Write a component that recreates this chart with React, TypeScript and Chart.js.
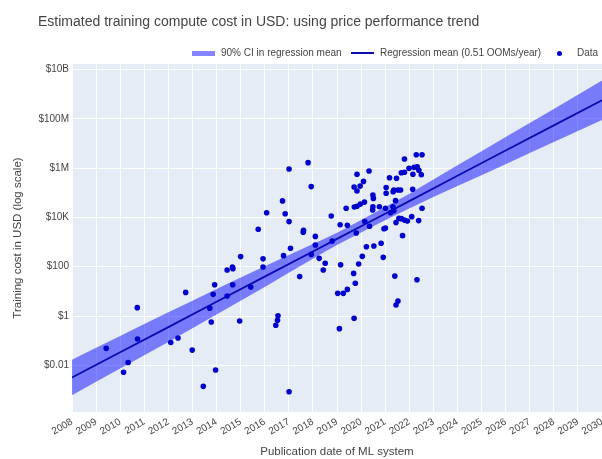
import React, { useEffect, useRef } from "react";
import { Chart, registerables } from "chart.js";

Chart.register(...registerables);

const FONT = '"Liberation Sans", Arial, Helvetica, sans-serif';
const TEXT = "#444";

const chartTitle = "Estimated training compute cost in USD: using price performance trend";
const xAxisTitle = "Publication date of ML system";
const yAxisTitle = "Training cost in USD (log scale)";
const legendLabels = ["90% CI in regression mean", "Regression mean (0.51 OOMs/year)", "Data"];

const yTickValues = [0.01, 1, 100, 1e4, 1e6, 1e8, 1e10];
const yTickLabels = ["$0.01", "$1", "$100", "$10K", "$1M", "$100M", "$10B"];

// regression mean and 90% CI (log10 of USD)
const bandYears = [2008, 2010, 2012, 2014, 2016, 2018, 2019, 2020, 2021, 2022, 2024, 2026, 2028, 2030];
const bandMeanLog10 = [-2.49, -1.47, -0.45, 0.58, 1.6, 2.62, 3.13, 3.64, 4.15, 4.66, 5.69, 6.71, 7.73, 8.75];
const bandUpperLog10 = [-1.77, -0.81, 0.15, 1.1, 2.02, 2.92, 3.38, 3.89, 4.42, 4.96, 6.11, 7.26, 8.4, 9.55];
const bandLowerLog10 = [-3.21, -2.13, -1.05, 0.06, 1.18, 2.32, 2.88, 3.39, 3.88, 4.36, 5.27, 6.16, 7.06, 7.95];

// ML systems: publication year and log10 of training cost in USD
const dataYears = [
  2009.42, 2010.14, 2010.33, 2010.71, 2010.72, 2012.1, 2012.4, 2012.72, 2012.99, 2013.45,
  2013.72, 2013.78, 2013.86, 2013.92, 2013.96, 2014.44, 2014.44, 2014.66, 2014.68, 2014.67,
  2014.96, 2015.0, 2015.42, 2015.73, 2015.93, 2015.93, 2016.08, 2016.46, 2016.53, 2016.55,
  2016.74, 2016.78, 2016.85, 2017.01, 2017.01, 2017.01, 2017.07, 2017.45, 2017.61, 2017.6,
  2017.8, 2017.93, 2017.93, 2018.1, 2018.1, 2018.26, 2018.43, 2018.51, 2018.76, 2018.8,
  2019.03, 2019.1, 2019.13, 2019.15, 2019.26, 2019.38, 2019.43, 2019.43, 2019.69, 2019.71,
  2019.71, 2019.72, 2019.76, 2019.8, 2019.83, 2019.83, 2019.83, 2019.9, 2019.96, 2019.97,
  2020.05, 2020.1, 2020.14, 2020.15, 2020.22, 2020.33, 2020.35, 2020.49, 2020.51, 2020.49,
  2020.48, 2020.53, 2020.76, 2020.83, 2020.92, 2020.95, 2021.01, 2021.01, 2021.04, 2021.04,
  2021.18, 2021.22, 2021.32, 2021.36, 2021.33, 2021.36, 2021.53, 2021.64, 2021.43, 2021.4,
  2021.45, 2021.53, 2021.45, 2021.57, 2021.67, 2021.8, 2021.92, 2022.1, 2021.72, 2021.47,
  2021.67, 2021.8, 2021.99, 2021.8, 2022.15, 2022.2, 2022.33, 2022.4, 2022.5, 2022.14,
  2022.29, 2022.53, 2022.32, 2022.39, 2022.53,
];
const dataCostLog10 = [
  -1.31, -2.28, -1.88, 0.34, -0.93, -1.07, -0.89, 0.96, -1.38, -2.85,
  0.32, -0.24, 0.88, 1.27, -2.19, 1.87, 0.81, 1.99, 1.92, 1.27,
  -0.2, 2.41, 1.18, 3.52, 2.32, 1.99, 4.19, -0.37, -0.17, 0.01,
  4.67, 2.45, 4.15, 5.96, 3.83, -3.07, 2.75, 1.6, 3.48, 3.4,
  6.22, 5.25, 2.5, 3.23, 2.88, 2.34, 1.87, 2.14, 4.06, 3.04,
  0.92, -0.51, 3.7, 2.08, 0.92, 4.37, 3.68, 1.08, 1.73, 5.23,
  -0.09, 4.42, 1.33, 3.37, 5.75, 5.07, 4.45, 2.11, 5.27, 4.54,
  2.42, 5.46, 4.62, 3.83, 2.81, 5.88, 3.64, 4.91, 4.77, 4.43,
  4.3, 2.84, 4.43, 2.95, 2.38, 3.54, 3.57, 4.37, 4.98, 5.21,
  5.61, 4.19, 4.43, 4.27, 5.04, 5.11, 5.11, 5.11, 4.68, 1.62,
  0.45, 0.61, 3.79, 3.96, 3.95, 3.89, 3.85, 4.03, 3.26, 5.59,
  5.81, 5.83, 5.99, 6.37, 5.75, 6.03, 6.05, 5.91, 5.73, 5.14,
  6.54, 6.54, 1.47, 3.87, 4.37,
];

const BAND_COLOR = "rgba(0,0,255,0.48)";
const LINE_COLOR = "#0b0bb0";
const POINT_COLOR = "#0000cc";

function toPoints(xs: number[], logs: number[]) {
  return xs.map((x, i) => ({ x, y: Math.pow(10, logs[i]) }));
}

export default function App() {
  const ref = useRef<HTMLCanvasElement>(null);

  useEffect(() => {
    if (!ref.current) return;
    const plotBg = {
      id: "plotBg",
      beforeDraw(chart: any) {
        const { ctx, chartArea } = chart;
        ctx.save();
        ctx.fillStyle = "#ffffff";
        ctx.fillRect(0, 0, chart.width, chart.height);
        ctx.fillStyle = "#E5ECF6";
        ctx.fillRect(chartArea.left, chartArea.top, chartArea.right - chartArea.left, chartArea.bottom - chartArea.top);
        ctx.restore();
      },
    };
    const chart = new Chart(ref.current, {
      type: "scatter",
      data: {
        datasets: [
          {
            label: legendLabels[2],
            data: toPoints(dataYears, dataCostLog10),
            backgroundColor: POINT_COLOR,
            borderWidth: 0,
            pointRadius: 2.8,
            order: 0,
          } as any,
          {
            type: "line",
            label: legendLabels[1],
            data: toPoints(bandYears, bandMeanLog10),
            borderColor: LINE_COLOR,
            borderWidth: 1.8,
            pointRadius: 0,
            fill: false,
            order: 1,
          } as any,
          {
            type: "line",
            label: legendLabels[0],
            data: toPoints(bandYears, bandUpperLog10),
            borderColor: "transparent",
            borderWidth: 0,
            pointRadius: 0,
            fill: "+1",
            backgroundColor: BAND_COLOR,
            cubicInterpolationMode: "monotone",
            order: 2,
          } as any,
          {
            type: "line",
            label: "lower",
            data: toPoints(bandYears, bandLowerLog10),
            borderColor: "transparent",
            borderWidth: 0,
            pointRadius: 0,
            fill: false,
            cubicInterpolationMode: "monotone",
            order: 3,
          } as any,
        ],
      },
      options: {
        responsive: false,
        animation: false,
        events: [],
        layout: { autoPadding: false, padding: { top: 64, left: 0, right: 0, bottom: 0 } },
        plugins: {
          legend: { display: false },
          title: { display: false },
          tooltip: { enabled: false },
        },
        scales: {
          x: {
            type: "linear",
            min: 2008,
            max: 2030,
            ticks: {
              stepSize: 1,
              autoSkip: false,
              minRotation: 30,
              maxRotation: 30,
              padding: 4,
              color: TEXT,
              font: { family: FONT, size: 10 },
              callback: (v: any) => String(v),
            },
            grid: { color: "#ffffff", lineWidth: 1, drawTicks: false },
            border: { display: false },
            title: {
              display: true,
              text: xAxisTitle,
              color: TEXT,
              font: { family: FONT, size: 11.5 },
              padding: { top: 0, bottom: 0 },
            },
            afterFit: (s: any) => {
              s.height = 47;
              s.paddingLeft = 0;
              s.paddingRight = 0;
            },
          },
          y: {
            type: "logarithmic",
            min: Math.pow(10, -3.89),
            max: Math.pow(10, 10.22),
            bounds: "data",
            afterBuildTicks: (s: any) => {
              s.ticks = yTickValues.map((v) => ({ value: v }));
            },
            ticks: {
              padding: 3,
              color: TEXT,
              font: { family: FONT, size: 10 },
              callback: (_v: any, i: number) => yTickLabels[i],
            },
            grid: { color: "#ffffff", lineWidth: 1, drawTicks: false },
            border: { display: false },
            title: {
              display: true,
              text: yAxisTitle,
              color: TEXT,
              font: { family: FONT, size: 11.5 },
              padding: { top: 11, bottom: 0 },
            },
            afterFit: (s: any) => {
              s.width = 72;
              s.paddingTop = 0;
              s.paddingBottom = 0;
            },
          },
        },
      } as any,
      plugins: [plotBg],
    });
    return () => chart.destroy();
  }, []);

  const legendText: React.CSSProperties = {
    position: "absolute",
    top: 47,
    fontSize: 10,
    lineHeight: "12px",
    color: TEXT,
    whiteSpace: "nowrap",
  };

  return (
    <div style={{ position: "absolute", left: 0, top: 0, width: 602, height: 459, background: "#fff", fontFamily: FONT, overflow: "hidden" }}>
      <canvas ref={ref} width={602} height={459} style={{ position: "absolute", left: 0, top: 0 }} />
      <div style={{ position: "absolute", left: 38, top: 12, fontSize: 14, lineHeight: "18px", color: TEXT, whiteSpace: "nowrap" }}>
        {chartTitle}
      </div>
      <div style={{ position: "absolute", left: 192, top: 51, width: 23, height: 5, background: BAND_COLOR }} />
      <div style={{ ...legendText, left: 221 }}>{legendLabels[0]}</div>
      <div style={{ position: "absolute", left: 351, top: 52, width: 23, height: 2, background: LINE_COLOR }} />
      <div style={{ ...legendText, left: 380 }}>{legendLabels[1]}</div>
      <div style={{ position: "absolute", left: 557, top: 50.5, width: 5, height: 5, borderRadius: "50%", background: POINT_COLOR }} />
      <div style={{ ...legendText, left: 577 }}>{legendLabels[2]}</div>
    </div>
  );
}
